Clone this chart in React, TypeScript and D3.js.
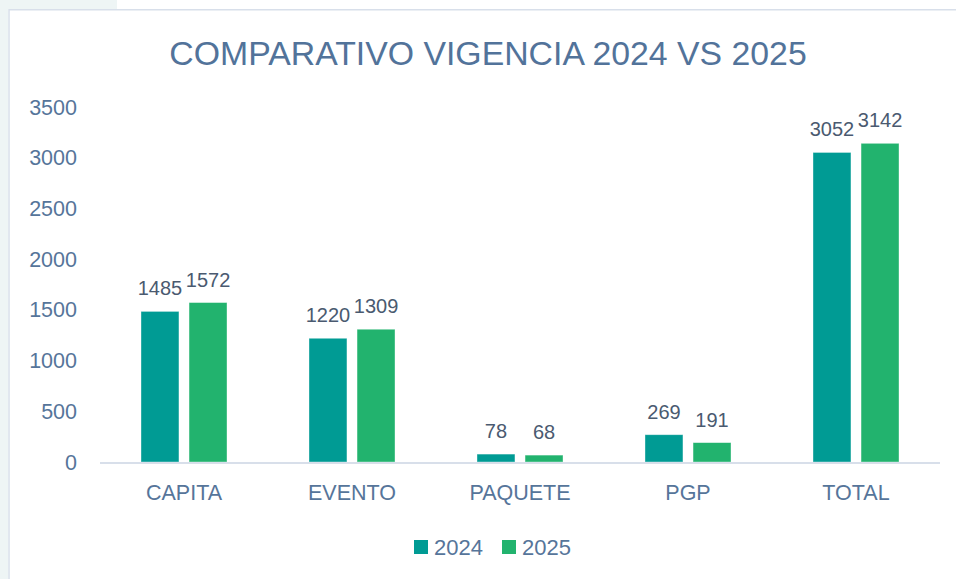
import React from "react";
import * as d3 from "d3";

const categories = ["CAPITA", "EVENTO", "PAQUETE", "PGP", "TOTAL"];
const series2024 = [1485, 1220, 78, 269, 3052];
const series2025 = [1572, 1309, 68, 191, 3142];
const seriesNames = ["2024", "2025"];
const yTicks = [0, 500, 1000, 1500, 2000, 2500, 3000, 3500];
const title = "COMPARATIVO VIGENCIA 2024 VS 2025";

const W = 956;
const H = 579;
const colors = ["#009B94", "#22B36E"];
const axisText = "#56759A";
const labelText = "#4A5A70";
const font = "'Liberation Sans', Arial, sans-serif";

export default function App() {
  const x0 = d3.scaleBand<string>().domain(categories).range([100, 940]).paddingInner(0).paddingOuter(0);
  const x1 = d3.scaleBand<string>().domain(seriesNames).range([0, 86]).paddingInner(0.21);
  const y = d3.scaleLinear().domain([0, 3500]).range([462, 107]);
  const data = [series2024, series2025];

  return (
    <svg width={W} height={H} style={{ position: "absolute", left: 0, top: 0, background: "#fff" }}>
      <rect x={0} y={0} width={117} height={9} fill="#EEF5F5" />
      <rect x={0} y={0} width={8} height={H} fill="#EEF5F5" />
      <path d={`M9,${H} V9.75 H${W}`} fill="none" stroke="#D8DFEA" strokeWidth={1.5} />
      <text x={488} y={65} textAnchor="middle" fontFamily={font} fontSize={33.8} fill="#52739A">{title}</text>
      {yTicks.map((t) => (
        <text key={t} x={77} y={y(t) + 7.5} textAnchor="end" fontFamily={font} fontSize={21.5} fill={axisText}>{t}</text>
      ))}
      {categories.map((c, i) => {
        const cx = (x0(c) as number) + x0.bandwidth() / 2;
        return (
          <g key={c}>
            {seriesNames.map((s, j) => {
              const v = data[j][i];
              const bx = cx - 43 + (x1(s) as number);
              const bw = x1.bandwidth();
              return (
                <g key={s}>
                  <rect x={bx} y={y(v)} width={bw} height={y(0) - y(v)} fill={colors[j]} stroke="#ffffff" strokeOpacity={0.5} strokeWidth={0.75} />
                  <text x={bx + bw / 2} y={y(v) - 16} textAnchor="middle" fontFamily={font} fontSize={20} fill={labelText}>{v}</text>
                </g>
              );
            })}
            <text x={cx} y={500} textAnchor="middle" fontFamily={font} fontSize={21.5} fill={axisText}>{c}</text>
          </g>
        );
      })}
      <line x1={100} x2={940} y1={y(0) + 1} y2={y(0) + 1} stroke="#D8DFEA" strokeWidth={2} />
      {seriesNames.map((s, j) => (
        <g key={s} transform={`translate(${414 + j * 88},540)`}>
          <rect x={0} y={0} width={14} height={14} fill={colors[j]} />
          <text x={20} y={14.5} fontFamily={font} fontSize={22} fill={axisText}>{s}</text>
        </g>
      ))}
    </svg>
  );
}
